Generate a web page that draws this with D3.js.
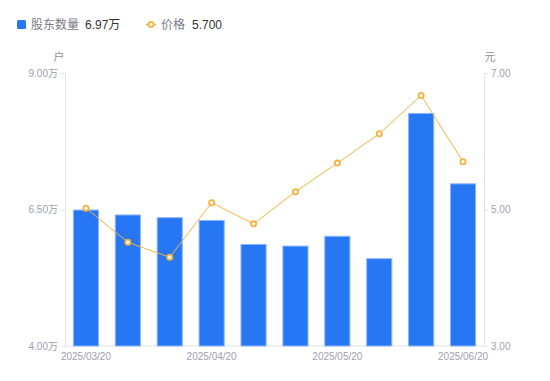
<!DOCTYPE html>
<html><head><meta charset="utf-8">
<script src="https://cdn.jsdelivr.net/npm/d3@7/dist/d3.min.js"></script>
<style>
body{margin:0;background:#fff;}
svg{display:block;font-family:"Liberation Sans","Noto Sans CJK SC",sans-serif;}
</style></head><body>
<svg id="c" width="550" height="381"></svg>
<script>
const categories = ["2025/03/20","2025/03/30","2025/04/10","2025/04/20","2025/04/30","2025/05/10","2025/05/20","2025/05/30","2025/06/10","2025/06/20"];
const holders = [6.49, 6.40, 6.35, 6.30, 5.86, 5.83, 6.01, 5.60, 8.26, 6.97];
const prices = [5.02, 4.52, 4.30, 5.10, 4.79, 5.26, 5.68, 6.11, 6.67, 5.70];
const leftTicks = [4.0, 6.5, 9.0];
const rightTicks = [3.0, 5.0, 7.0];
const xLabelIdx = [0, 3, 6, 9];

const svg = d3.select("#c");
const L = 65, R = 484, T = 73, B = 346;
const x = d3.scaleBand().domain(categories).range([L, R]).paddingInner(0.4).paddingOuter(0.2);
const yL = d3.scaleLinear().domain([4, 9]).range([B, T]);
const yR = d3.scaleLinear().domain([3, 7]).range([B, T]);
const axisColor = "#e3e3e8", tickText = "#a0a0ae";

// axes
const gl = svg.append("g").attr("transform", `translate(${L},0)`)
  .call(d3.axisLeft(yL).tickValues(leftTicks).tickSize(4).tickPadding(3).tickFormat(d => d3.format(".2f")(d) + "万"));
const gr = svg.append("g").attr("transform", `translate(${R},0)`)
  .call(d3.axisRight(yR).tickValues(rightTicks).tickSize(4).tickPadding(3).tickFormat(d3.format(".2f")));
const gb = svg.append("g").attr("transform", `translate(0,${B})`)
  .call(d3.axisBottom(x).tickValues(xLabelIdx.map(i => categories[i])).tickSize(0).tickPadding(7));
[gl, gr, gb].forEach(g => {
  g.selectAll("path.domain").attr("stroke", axisColor);
  g.selectAll(".tick line").attr("stroke", axisColor);
  g.selectAll("text").attr("fill", tickText).style("font-size", "10px")
    .style("font-family", '"Liberation Sans","Noto Sans CJK SC",sans-serif');
});
gb.select("path.domain").attr("d", `M${L},0H${R}`);

// bars
svg.append("g").selectAll("rect").data(holders).join("rect")
  .attr("x", (d, i) => x(categories[i]))
  .attr("y", d => yL(d))
  .attr("width", x.bandwidth())
  .attr("height", d => B - yL(d))
  .attr("fill", "#2777f4")
  .attr("stroke", "#8db6f9").attr("stroke-width", 1);

// line
const cx = i => x(categories[i]) + x.bandwidth() / 2;
svg.append("path").datum(prices)
  .attr("d", d3.line().x((d, i) => cx(i)).y(d => yR(d)))
  .attr("fill", "none").attr("stroke", "#f6b23e").attr("stroke-width", 1);
svg.append("g").selectAll("circle").data(prices).join("circle")
  .attr("cx", (d, i) => cx(i)).attr("cy", d => yR(d)).attr("r", 2.6)
  .attr("fill", "#fff").attr("stroke", "#f6b23e").attr("stroke-width", 1.8);

// unit labels
svg.append("text").attr("x", 59).attr("y", 61).attr("text-anchor", "middle")
  .attr("fill", "#8f8f9c").style("font-size", "11px").text("户");
svg.append("text").attr("x", 490).attr("y", 61).attr("text-anchor", "middle")
  .attr("fill", "#8f8f9c").style("font-size", "11px").text("元");

// legend
const lg = svg.append("g").style("font-size", "12px");
lg.append("rect").attr("x", 17).attr("y", 20).attr("width", 9).attr("height", 9).attr("rx", 1.5).attr("fill", "#2777f4");
lg.append("text").attr("x", 31).attr("y", 29).attr("fill", "#7a7a86").text("股东数量");
lg.append("text").attr("x", 85).attr("y", 29).attr("fill", "#333").text(d3.format(".2f")(holders[holders.length-1]) + "万");
lg.append("line").attr("x1", 146).attr("x2", 156).attr("y1", 24.5).attr("y2", 24.5).attr("stroke", "#f6b23e").attr("stroke-width", 1.5);
lg.append("circle").attr("cx", 151).attr("cy", 24.5).attr("r", 2.6).attr("fill", "#fff").attr("stroke", "#f6b23e").attr("stroke-width", 1.8);
lg.append("text").attr("x", 161).attr("y", 29).attr("fill", "#7a7a86").text("价格");
lg.append("text").attr("x", 192).attr("y", 29).attr("fill", "#333").text(d3.format(".3f")(prices[prices.length-1]));
</script>
</body></html>
